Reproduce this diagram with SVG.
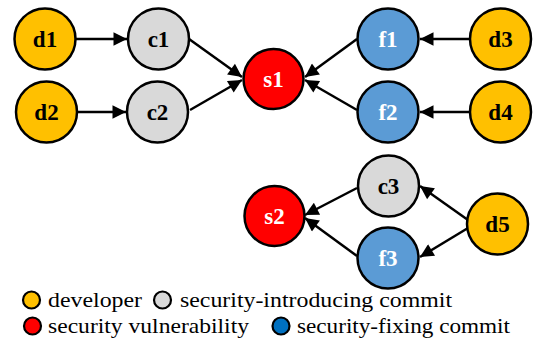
<svg xmlns="http://www.w3.org/2000/svg" width="542" height="339" viewBox="0 0 542 339">
<defs>
<marker id="ah" viewBox="0 0 10 10" refX="10" refY="5" markerWidth="6" markerHeight="5.4" markerUnits="strokeWidth" orient="auto">
<path d="M0,0 L10,5 L0,10 z" fill="#000"/>
</marker>
</defs>
<g id="connectors" stroke="#000" stroke-width="2.5" fill="none" marker-end="url(#ah)">
<line x1="76" y1="39" x2="127" y2="39"/>
<line x1="77" y1="112" x2="126" y2="112"/>
<line x1="189" y1="39" x2="242" y2="77"/>
<line x1="190" y1="110" x2="242" y2="80"/>
<line x1="470" y1="39" x2="420" y2="39"/>
<line x1="470" y1="112" x2="420" y2="112"/>
<line x1="357" y1="39" x2="305" y2="77"/>
<line x1="357" y1="110" x2="305" y2="80"/>
<line x1="357" y1="188" x2="305" y2="215"/>
<line x1="357" y1="256" x2="305" y2="218"/>
<line x1="468" y1="220" x2="420" y2="186"/>
<line x1="468" y1="228" x2="420" y2="257"/>
</g>
<g stroke="#000" stroke-width="2.5">
<g id="d1"><circle fill="#FFC000" cx="45" cy="39" r="30.5"/><text x="45" y="47" fill="#000" stroke="none" style="font-family:'Liberation Serif';font-weight:bold;font-size:23px;text-anchor:middle">d1</text></g>
<g id="c1"><circle fill="#D9D9D9" cx="158.5" cy="39" r="30.5"/><text x="158.5" y="47" fill="#000" stroke="none" style="font-family:'Liberation Serif';font-weight:bold;font-size:23px;text-anchor:middle">c1</text></g>
<g id="d2"><circle fill="#FFC000" cx="46.5" cy="112" r="30.5"/><text x="46.5" y="120" fill="#000" stroke="none" style="font-family:'Liberation Serif';font-weight:bold;font-size:23px;text-anchor:middle">d2</text></g>
<g id="c2"><circle fill="#D9D9D9" cx="157.5" cy="112" r="30.5"/><text x="157.5" y="120" fill="#000" stroke="none" style="font-family:'Liberation Serif';font-weight:bold;font-size:23px;text-anchor:middle">c2</text></g>
<g id="s1"><circle fill="#FF0000" cx="273.5" cy="79" r="30"/><text x="273.5" y="87" fill="#fff" stroke="none" style="font-family:'Liberation Serif';font-weight:bold;font-size:23px;text-anchor:middle">s1</text></g>
<g id="f1"><circle fill="#5B9BD5" cx="388" cy="39" r="30.5"/><text x="388" y="47" fill="#fff" stroke="none" style="font-family:'Liberation Serif';font-weight:bold;font-size:23px;text-anchor:middle">f1</text></g>
<g id="d3"><circle fill="#FFC000" cx="500.5" cy="39" r="30.5"/><text x="500.5" y="47" fill="#000" stroke="none" style="font-family:'Liberation Serif';font-weight:bold;font-size:23px;text-anchor:middle">d3</text></g>
<g id="f2"><circle fill="#5B9BD5" cx="388" cy="112" r="30.5"/><text x="388" y="120" fill="#fff" stroke="none" style="font-family:'Liberation Serif';font-weight:bold;font-size:23px;text-anchor:middle">f2</text></g>
<g id="d4"><circle fill="#FFC000" cx="500.5" cy="112" r="30.5"/><text x="500.5" y="120" fill="#000" stroke="none" style="font-family:'Liberation Serif';font-weight:bold;font-size:23px;text-anchor:middle">d4</text></g>
<g id="s2"><circle fill="#FF0000" cx="274.5" cy="216" r="30"/><text x="274.5" y="224" fill="#fff" stroke="none" style="font-family:'Liberation Serif';font-weight:bold;font-size:23px;text-anchor:middle">s2</text></g>
<g id="c3"><circle fill="#D9D9D9" cx="388.5" cy="186" r="30.5"/><text x="388.5" y="194" fill="#000" stroke="none" style="font-family:'Liberation Serif';font-weight:bold;font-size:23px;text-anchor:middle">c3</text></g>
<g id="f3"><circle fill="#5B9BD5" cx="388" cy="258" r="30.5"/><text x="388" y="266" fill="#fff" stroke="none" style="font-family:'Liberation Serif';font-weight:bold;font-size:23px;text-anchor:middle">f3</text></g>
<g id="d5"><circle fill="#FFC000" cx="497.5" cy="224" r="30.5"/><text x="497.5" y="232" fill="#000" stroke="none" style="font-family:'Liberation Serif';font-weight:bold;font-size:23px;text-anchor:middle">d5</text></g>
</g>
<g id="legend">
<circle stroke="#000" stroke-width="2.2" fill="#FFC000" cx="31.5" cy="300" r="8.5"/>
<text x="48" y="307" fill="#000" style="font-family:'Liberation Serif';font-size:22px" textLength="94" lengthAdjust="spacingAndGlyphs">developer</text>
<circle stroke="#000" stroke-width="2.2" fill="#D9D9D9" cx="162.5" cy="300" r="8.5"/>
<text x="180" y="307" fill="#000" style="font-family:'Liberation Serif';font-size:22px" textLength="272" lengthAdjust="spacingAndGlyphs">security-introducing commit</text>
<circle stroke="#000" stroke-width="2.2" fill="#FF0000" cx="32.5" cy="326" r="8.5"/>
<text x="48" y="333" fill="#000" style="font-family:'Liberation Serif';font-size:22px" textLength="201" lengthAdjust="spacingAndGlyphs">security vulnerability</text>
<circle stroke="#000" stroke-width="2.2" fill="#0070C0" cx="281" cy="326" r="8.5"/>
<text x="297" y="333" fill="#000" style="font-family:'Liberation Serif';font-size:22px" textLength="213" lengthAdjust="spacingAndGlyphs">security-fixing commit</text>
</g>
</svg>
